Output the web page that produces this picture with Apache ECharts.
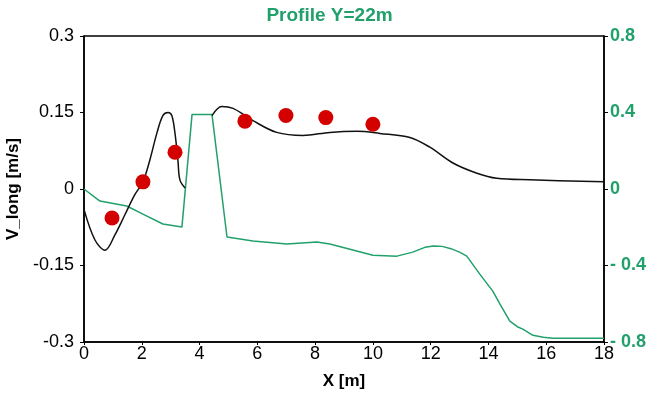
<!DOCTYPE html>
<html><head><meta charset="utf-8">
<script src="https://cdn.jsdelivr.net/npm/echarts@6/dist/echarts.min.js"></script>
<style>html,body{margin:0;padding:0;background:#fff}#c{width:659px;height:394px}</style>
</head><body><div id="c"></div>
<script>
// Simulated V_long (left axis) – black curve, segment 1 and segment 2
const simX1 = [0, 0.38, 0.73, 1.07, 1.42, 1.75, 2.04, 2.28, 2.52, 2.73, 2.91, 3.04, 3.15, 3.25, 3.32, 3.5];
const simY1 = [-0.04, -0.10, -0.12, -0.09, -0.05, -0.012, 0.014, 0.057, 0.109, 0.144, 0.15, 0.144, 0.109, 0.057, 0.018, 0.002];
const simX2 = [4.43, 4.77, 5.16, 5.85, 6.67, 7.58, 8.51, 9.45, 10.24, 11.28, 11.97, 12.77, 13.6, 14.29, 15.43, 18];
const simY2 = [0.144, 0.162, 0.158, 0.134, 0.111, 0.105, 0.111, 0.113, 0.109, 0.101, 0.082, 0.051, 0.031, 0.021, 0.018, 0.014];
// Bed profile (right axis) – green line
const bedX = [0, 0.55, 1.48, 2.04, 2.73, 3.39, 3.74, 4.43, 4.95, 5.85, 7.02, 8.06, 8.51, 10.0, 10.83, 11.38, 11.8, 12.1, 12.4, 12.7, 13.0, 13.25, 13.7, 14.15, 14.4, 14.74, 15.0, 15.19, 15.54, 15.9, 16.23, 18];
const bedY = [0, -0.063, -0.089, -0.131, -0.183, -0.199, 0.39, 0.39, -0.251, -0.272, -0.288, -0.277, -0.288, -0.346, -0.351, -0.330, -0.305, -0.298, -0.300, -0.312, -0.330, -0.351, -0.445, -0.534, -0.602, -0.691, -0.720, -0.733, -0.765, -0.775, -0.78, -0.78];
// Measured points (left axis)
const measX = [0.97, 2.04, 3.15, 5.57, 6.99, 8.37, 10.0];
const measY = [-0.057, 0.014, 0.072, 0.133, 0.144, 0.140, 0.127];
const xTicks = [0, 2, 4, 6, 8, 10, 12, 14, 16, 18];

const green = '#22a06b';
const zip = (a, b) => a.map((v, i) => [v, b[i]]);
const simData = zip(simX1, simY1).concat([[3.9, null]], zip(simX2, simY2));

const chart = echarts.init(document.getElementById('c'));
chart.setOption({
  animation: false,
  textStyle: {fontFamily: 'Liberation Sans, Arial, sans-serif'},
  title: {text: 'Profile Y=22m', left: 'center', top: 1,
    textStyle: {color: green, fontSize: 19, fontWeight: 'bold'}},
  grid: {left: 84, right: 55, top: 36, bottom: 52, show: true, borderColor: '#000', borderWidth: 1.5,
    containLabel: false, outerBoundsMode: 'none'},
  xAxis: {type: 'value', min: 0, max: 18, interval: 2,
    name: 'X [m]', nameLocation: 'middle', nameGap: 31,
    nameTextStyle: {color: '#000', fontSize: 17, fontWeight: 'bold'},
    axisLine: {onZero: false, lineStyle: {color: '#000', width: 1.5}},
    axisTick: {show: true, length: 3, lineStyle: {color: '#000'}},
    axisLabel: {color: '#000', fontSize: 18, margin: 3,
      formatter: v => xTicks.includes(v) ? String(v) : ''},
    splitLine: {show: false}},
  yAxis: [
    {type: 'value', min: -0.3, max: 0.3, interval: 0.15,
      name: 'V_long [m/s]', nameLocation: 'middle', nameGap: 59,
      nameTextStyle: {color: '#000', fontSize: 17, fontWeight: 'bold'},
      axisLine: {show: true, onZero: false, lineStyle: {color: '#000', width: 1.5}},
      axisTick: {show: true, length: 4, lineStyle: {color: '#000'}},
      axisLabel: {color: '#000', fontSize: 18, margin: 10,
        formatter: v => String(Math.round(v * 100) / 100)},
      splitLine: {show: false}},
    {type: 'value', min: -0.8, max: 0.8, interval: 0.4, position: 'right',
      axisLine: {show: true, onZero: false, lineStyle: {color: '#000', width: 1.5}},
      axisTick: {show: true, length: 4, lineStyle: {color: '#000'}},
      axisLabel: {color: green, fontSize: 18, fontWeight: 'bold', margin: 6,
        formatter: v => { const r = Math.round(v * 10) / 10; return r < 0 ? '- ' + Math.abs(r) : String(r); }},
      splitLine: {show: false}}
  ],
  series: [
    {type: 'line', yAxisIndex: 1, data: zip(bedX, bedY), showSymbol: false,
      lineStyle: {color: green, width: 1.5}, z: 2},
    {type: 'line', yAxisIndex: 0, data: simData, showSymbol: false, smooth: 0.35,
      connectNulls: false, lineStyle: {color: '#111', width: 1.5}, z: 3},
    {type: 'scatter', yAxisIndex: 0, data: zip(measX, measY), symbolSize: 15,
      itemStyle: {color: '#d40000', opacity: 1}, z: 4}
  ]
});
</script></body></html>
